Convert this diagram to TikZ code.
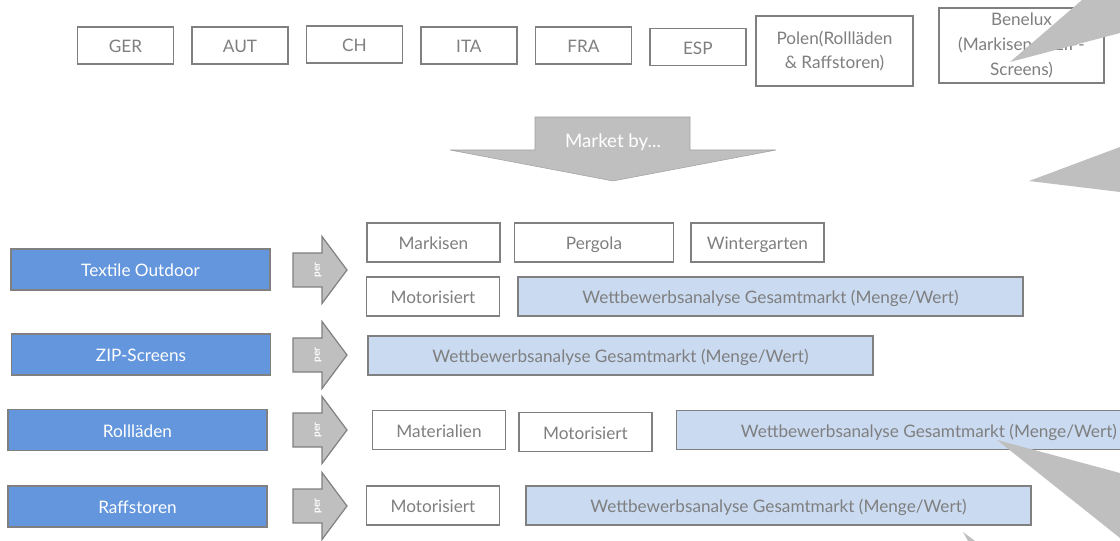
\documentclass[tikz,border=0pt]{standalone}
\usepackage{fontspec}
\setmainfont{Lato}
\usetikzlibrary{positioning}

\definecolor{txtgray}{HTML}{7F7F7F}
\definecolor{linegray}{HTML}{808080}
\definecolor{shapegray}{HTML}{BFBFBF}
\definecolor{segblue}{HTML}{6396DC}
\definecolor{lightblue}{HTML}{C9DAF1}

\begin{document}
\begin{tikzpicture}[x=0.75pt,y=-0.75pt,font=\fontsize{12.9}{14.5}\selectfont,
                    node distance=12.75pt,inner sep=1pt]
  \tikzstyle{land}=[draw=linegray,line width=1.1pt,fill=white,text=txtgray,
                    minimum width=72pt,minimum height=27.75pt,align=center,
                    text height=11pt,text depth=0.2pt]
  \tikzstyle{bigland}=[land,text height=,text depth=,
                    font=\fontsize{12.9}{18.5}\selectfont]
  \tikzstyle{segment}=[draw=linegray,line width=1.1pt,fill=segblue,text=white,
                    minimum width=194.25pt,minimum height=30.75pt,
                    text height=11pt,text depth=0.2pt]
  \tikzstyle{item}=[draw=linegray,line width=1.1pt,fill=white,text=txtgray,
                    minimum width=99.75pt,minimum height=29.25pt,
                    text height=11pt,text depth=0.2pt]
  \tikzstyle{analysis}=[item,fill=lightblue,minimum width=378.75pt]
  \tikzstyle{perarrow}=[draw=linegray,line width=0.9pt,fill=shapegray]
  \tikzstyle{callout}=[fill=shapegray]

  \useasboundingbox (0,0) rectangle (1120,541);
  \clip (0,0) rectangle (1120,541);

  % countries
  \node[land] (GER) at (125.5,45.5) {GER};
  \node[land] (AUT) [right=of GER] {AUT};
  \node[land] (CH)  [right=of AUT,yshift=0.75pt] {CH};
  \node[land] (ITA) [right=of CH,yshift=-0.75pt] {ITA};
  \node[land] (FRA) [right=of ITA] {FRA};
  \node[land] (ESP) [right=of FRA,yshift=-1.2pt] {ESP};
  \node[bigland,minimum width=117.75pt,minimum height=52.5pt] (POL) at (834.5,51)
      {Polen(Rollläden\\\& Raffstoren)};
  \node[bigland,minimum width=123.75pt,minimum height=56.25pt] (BNL) at (1021.5,45.5)
      {Benelux\\(Markisen \& ZIP-\\Screens)};

  % market by
  \draw[fill=shapegray,draw=shapegray!85!black,line width=0.4pt]
      (535,117) -- (690,117) -- (690,150) -- (776,150) -- (613,181)
      -- (450,150) -- (535,150) -- cycle;
  \node[text=white,font=\fontsize{14}{16}\selectfont] (market) at (613,142) {Market by...};

  % segments
  \node[segment] (textile) at (140.5,269.5) {Textile Outdoor};
  \node[segment] (zip)     at (141,354.5)   {ZIP-Screens};
  \node[segment] (roll)    at (137.5,430)   {Rollläden};
  \node[segment] (raff)    at (137.5,506.5) {Raffstoren};

  \foreach \y/\n in {270/1,355/2,430/3,506/4}{
    \draw[perarrow] (293,\y-17) -- (322,\y-17) -- (322,\y-33.5) -- (347,\y)
        -- (322,\y+33.5) -- (322,\y+17) -- (293,\y+17) -- cycle;
    \node[text=white,rotate=90,font=\fontsize{7.5}{8}\selectfont\bfseries] (per\n)
        at (318,\y) {per};
  }

  % textile outdoor
  \node[item] (mark)  at (433.5,242.5) {Markisen};
  \node[item,minimum width=119.25pt] (perg) [right=9.75pt of mark] {Pergola};
  \node[item] (wint)  [right=12pt of perg] {Wintergarten};
  \node[item] (mot1)  at (433,296.5) {Motorisiert};
  \node[analysis] (ana1) [right=of mot1] {Wettbewerbsanalyse Gesamtmarkt (Menge/Wert)};

  % zip
  \node[analysis] (ana2) at (620.5,355.5) {Wettbewerbsanalyse Gesamtmarkt (Menge/Wert)};

  % rolllaeden
  \node[item] (mat)   at (439,430) {Materialien};
  \node[item] (mot3)  [right=9pt of mat,yshift=-1.5pt] {Motorisiert};
  \node[analysis] (ana3) [right=17.25pt of mot3,yshift=1.5pt] {Wettbewerbsanalyse Gesamtmarkt (Menge/Wert)};

  % raffstoren
  \node[item] (mot4)  at (433,505.5) {Motorisiert};
  \node[analysis] (ana4) [right=18.75pt of mot4] {Wettbewerbsanalyse Gesamtmarkt (Menge/Wert)};

  % callouts
  \fill[callout] (1010,62) -- (1082,0) -- (1120,0) -- (1120,33) -- cycle;
  \fill[callout] (1029,181) -- (1120,147) -- (1120,192) -- cycle;
  \fill[callout] (997,440) -- (1120,473) -- (1120,538) -- cycle;
  \fill[callout] (963,532) -- (975,541) -- (968,541) -- cycle;
\end{tikzpicture}
\end{document}
